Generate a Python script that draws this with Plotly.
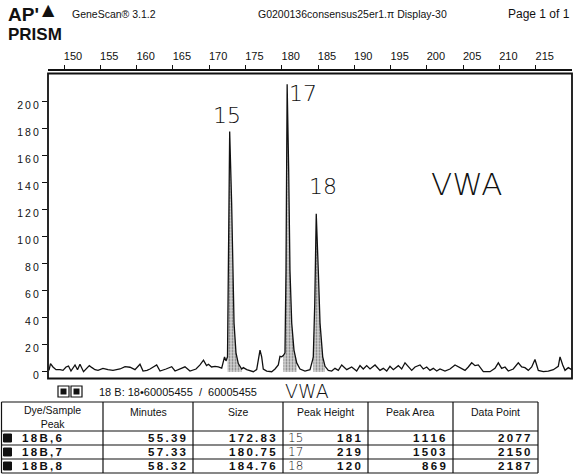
import plotly.graph_objects as go

# ---------------- data ----------------
# electropherogram trace (size in bp, signal in RFU)
size_bp = [147.93, 148.14, 148.48, 148.90, 149.45, 149.86, 150.28, 150.62, 150.96, 151.52,
           151.86, 152.20, 152.69, 153.03, 153.49, 153.86, 154.27, 154.69, 155.37, 156.06,
           156.75, 157.72, 158.41, 159.09, 159.78, 160.47, 160.89, 161.44, 161.85, 162.77,
           163.23, 164.06, 164.84, 165.30, 165.98, 166.67, 167.36, 168.19, 168.74, 169.22,
           169.64, 169.91, 170.33, 170.81, 171.26, 171.73, 172.12, 172.32, 172.53, 172.64,
           172.74, 172.83, 173.10, 173.24, 173.43, 173.70, 174.02, 174.49, 174.71, 175.18,
           175.63, 176.09, 176.55, 176.80, 177.01, 177.24, 177.46, 177.93, 178.62, 179.08,
           179.53, 179.76, 180.00, 180.22, 180.45, 180.59, 180.69, 180.75, 180.96, 181.14,
           181.38, 181.69, 182.07, 182.52, 183.21, 183.90, 184.27, 184.35, 184.55, 184.76,
           185.04, 185.28, 185.65, 185.97, 186.42, 186.89, 187.34, 187.80, 188.27, 188.96,
           189.64, 190.33, 190.79, 191.24, 191.71, 192.17, 192.86, 193.54, 194.00, 194.47,
           194.92, 195.38, 196.07, 196.53, 196.99, 197.44, 197.91, 198.37, 199.06, 199.51,
           199.98, 200.43, 200.89, 201.36, 201.81, 202.50, 203.19, 203.88, 204.57, 205.26,
           205.71, 206.18, 206.64, 207.09, 207.78, 208.70, 209.39, 209.85, 210.31, 210.77,
           211.22, 211.91, 212.60, 213.07, 213.52, 213.98, 214.45, 214.90, 215.36, 216.05,
           216.74, 217.43, 218.11, 218.35, 218.72, 219.04, 219.49, 219.96]
signal = [1.0, 6.0, 3.5, 1.5, 1.5, 1.0, 3.5, 4.2, 0.5, 5.0,
          1.5, 5.5, 0.0, 2.0, 4.5, 3.0, 1.5, 1.0, 2.5, 1.5,
          1.0, 2.0, 3.8, 3.3, 1.5, 5.5, 0.5, 1.0, 2.0, 5.0,
          0.5, 2.0, 3.7, 0.5, 2.0, 3.6, 0.5, 2.0, 5.0, 8.5,
          4.5, 5.5, 3.5, 4.0, 3.5, 2.7, 11.0, 8.0, 11.0, 75.0,
          125.0, 178.0, 125.0, 75.0, 36.0, 14.0, 6.0, 2.0, 3.0, 1.5,
          0.5, 0.0, 1.5, 8.0, 16.0, 11.0, 2.0, 0.5, 0.0, 2.0,
          5.0, 11.4, 11.0, 12.0, 14.0, 75.0, 149.0, 213.0, 149.0, 75.0,
          36.0, 16.0, 6.5, 2.0, 0.5, 1.5, 9.0, 11.0, 50.0, 117.0,
          75.0, 36.0, 11.0, 4.0, 1.0, 0.5, 2.5, 1.0, 5.0, 1.5,
          3.5, 0.5, 4.5, 2.0, 4.5, 2.0, 5.0, 1.0, 2.5, 0.5,
          4.0, 1.5, 4.5, 2.0, 6.6, 3.5, 1.0, 3.5, 5.0, 2.0,
          3.5, 1.0, 2.5, 0.5, 2.0, 0.5, 2.0, 5.0, 3.0, 1.0,
          3.5, 6.6, 4.5, 5.0, 0.0, 0.0, 2.5, 6.6, 2.5, 3.5,
          0.5, 2.0, 6.6, 3.5, 3.0, 1.0, 3.5, 9.0, 1.0, 0.0,
          0.5, 1.5, 4.0, 11.0, 5.0, 1.0, 3.0, 1.5]

# called peak windows (bp) that are shaded
peak_start = [172.53, 180.22, 184.35]
peak_end = [174.49, 182.07, 185.97]

# axis ticks
ruler_ticks = [150, 155, 160, 165, 170, 175, 180, 185, 190, 195, 200, 205, 210, 215]
y_ticks = [0, 20, 40, 60, 80, 100, 120, 140, 160, 180, 200]

# peak table
dye_peak = ["18B,6", "18B,7", "18B,8"]
minutes = [55.39, 57.33, 58.32]
size_col = [172.83, 180.75, 184.76]
peak_height = [181, 219, 120]
peak_area = [1116, 1503, 869]
data_point = [2077, 2150, 2187]
allele_marks = ["15", "17", "18"]
table_headers = ["Dye/Sample<br>Peak", "Minutes", "Size", "Peak Height", "Peak Area", "Data Point"]

# ---------------- layout helpers ----------------
W, H = 573, 476
FONT = "Liberation Sans"
HAND = "DejaVu Sans"


def px(x):
    return x / W


def py(y):
    return 1 - y / H


def spaced(s):
    return "\u2009".join(s)


def note(x, y, text, font, xanchor="center", yanchor="middle"):
    return dict(x=px(x), y=py(y), xref="paper", yref="paper", text=text, showarrow=False,
                xanchor=xanchor, yanchor=yanchor, font=font)


# plot frame in pixels
FL, FR, FT, FB = 48, 572, 73.5, 378.5
X_PER_BP, X_150 = 7.257, 64.0
Y_PER_U, Y_0 = 1.35, 371.7
x_range = [150 + (FL - X_150) / X_PER_BP, 150 + (FR - X_150) / X_PER_BP]
y_range = [(Y_0 - FB) / Y_PER_U, (Y_0 - FT) / Y_PER_U]

fig = go.Figure()

# shaded peaks (subset of the trace inside each window)
for s, e in zip(peak_start, peak_end):
    xs = [x for x in size_bp if s <= x <= e]
    ys = [y for x, y in zip(size_bp, signal) if s <= x <= e]
    fig.add_trace(go.Scatter(
        x=xs, y=ys, mode="none", fill="tozeroy",
        fillcolor="#c8c8c8",
        fillpattern=dict(shape=".", fgcolor="#777777", bgcolor="#d2d2d2", size=3, solidity=0.3),
        hoverinfo="skip", showlegend=False))

fig.add_trace(go.Scatter(x=size_bp, y=signal, mode="lines",
                         line=dict(color="#111111", width=1.3),
                         showlegend=False, hoverinfo="skip"))

shapes = []
annotations = []

# frame
shapes.append(dict(type="rect", xref="x domain", yref="y domain", x0=0, x1=1, y0=0, y1=1,
                   line=dict(color="#111111", width=1.8)))

# header
annotations += [
    note(6, 14, "<b>AP'</b>", dict(family=FONT, size=19, color="#111"), "left"),
    note(6, 35, "<b>PRISM</b>", dict(family=FONT, size=17, color="#111"), "left"),
    note(48, 9, "▲", dict(family="DejaVu Sans", size=16, color="#111")),
    note(70, 14, "GeneScan® 3.1.2", dict(family=FONT, size=10.5, color="#111"), "left"),
    note(352, 14, "G0200136consensus25er1.π Display-30", dict(family=FONT, size=10.5, color="#111")),
    note(572, 14, "Page 1 of 1", dict(family=FONT, size=12, color="#111"), "right"),
]

# handwritten notes
hand = dict(family=HAND, color="#111", weight=200)
annotations += [
    note(227, 115, "15", dict(size=22, **hand)),
    note(303, 94, "17", dict(size=22, **hand)),
    note(323, 187, "18", dict(size=22, **hand)),
    note(466, 184, "VWA", dict(size=31, **hand)),
    note(307, 391, "VWA", dict(size=19, **hand)),
]

# sample legend line
for x0 in (58, 71):
    shapes.append(dict(type="rect", xref="paper", yref="paper", x0=px(x0), x1=px(x0 + 11),
                       y0=py(397), y1=py(386), line=dict(color="#111", width=1.2),
                       fillcolor="white"))
    shapes.append(dict(type="rect", xref="paper", yref="paper", x0=px(x0 + 2.5), x1=px(x0 + 8.5),
                       y0=py(394.5), y1=py(388.5), line=dict(width=0), fillcolor="#111"))
annotations.append(note(97, 391.5, "18 B: 18•60005455  /  60005455",
                        dict(family=FONT, size=11, color="#111"), "left"))

# table
col_edges = [1.5, 103, 193, 283, 368, 453, 538]
row_edges = [402, 431, 445, 459, 473]
for ye in row_edges:
    shapes.append(dict(type="line", xref="paper", yref="paper", x0=px(col_edges[0]),
                       x1=px(col_edges[-1]), y0=py(ye), y1=py(ye),
                       line=dict(color="#111", width=1.2)))
for xe in col_edges:
    shapes.append(dict(type="line", xref="paper", yref="paper", x0=px(xe), x1=px(xe),
                       y0=py(row_edges[0]), y1=py(row_edges[-1]),
                       line=dict(color="#111", width=1.2)))
for i, htxt in enumerate(table_headers):
    cx = (col_edges[i] + col_edges[i + 1]) / 2
    annotations.append(note(cx, 417 if i == 0 else 412, htxt,
                            dict(family=FONT, size=10.5, color="#111")))

bold = dict(family=FONT, size=11.5, color="#111", weight="bold")
for r in range(len(dye_peak)):
    yc = (row_edges[r + 1] + row_edges[r + 2]) / 2
    shapes.append(dict(type="rect", xref="paper", yref="paper", x0=px(3.5), x1=px(11.5),
                       y0=py(yc + 4), y1=py(yc - 4), line=dict(color="#111", width=1),
                       fillcolor="#111"))
    annotations.append(note(20, yc, spaced(dye_peak[r]), bold, "left"))
    vals = [f"{minutes[r]:.2f}", f"{size_col[r]:.2f}", str(peak_height[r]),
            str(peak_area[r]), str(data_point[r])]
    for c, v in enumerate(vals):
        annotations.append(note(col_edges[c + 2] - 5, yc, spaced(v), bold, "right"))
    annotations.append(note(286, yc, allele_marks[r], dict(size=12, **hand), "left"))

fig.update_layout(
    width=W, height=H, template="none",
    margin=dict(l=0, r=0, t=0, b=0, pad=0),
    paper_bgcolor="white", plot_bgcolor="white",
    showlegend=False,
    font=dict(family=FONT, color="#111"),
    xaxis=dict(domain=[px(FL), px(FR)], range=x_range, anchor="free", position=py(70),
               side="top", showline=True, linecolor="#111", linewidth=1.6,
               ticks="outside", ticklen=4, tickwidth=1.2, tickcolor="#111",
               tickvals=ruler_ticks, ticktext=[str(t) for t in ruler_ticks],
               tickfont=dict(family=FONT, size=11, color="#111"),
               ticklabelshift=9, ticklabelstandoff=1,
               showgrid=False, zeroline=False, automargin=False),
    yaxis=dict(domain=[py(FB), py(FT)], range=y_range, anchor="x",
               showline=False, ticks="outside", ticklen=5, tickwidth=1.2, tickcolor="#111",
               tickvals=y_ticks, ticktext=[spaced(str(t)) for t in y_ticks],
               tickfont=dict(family=FONT, size=10.5, color="#111"),
               ticklabelshift=4, ticklabelstandoff=1,
               showgrid=False, zeroline=False, automargin=False),
    shapes=shapes, annotations=annotations,
)

fig.write_html("out.html", config={"displayModeBar": False})
